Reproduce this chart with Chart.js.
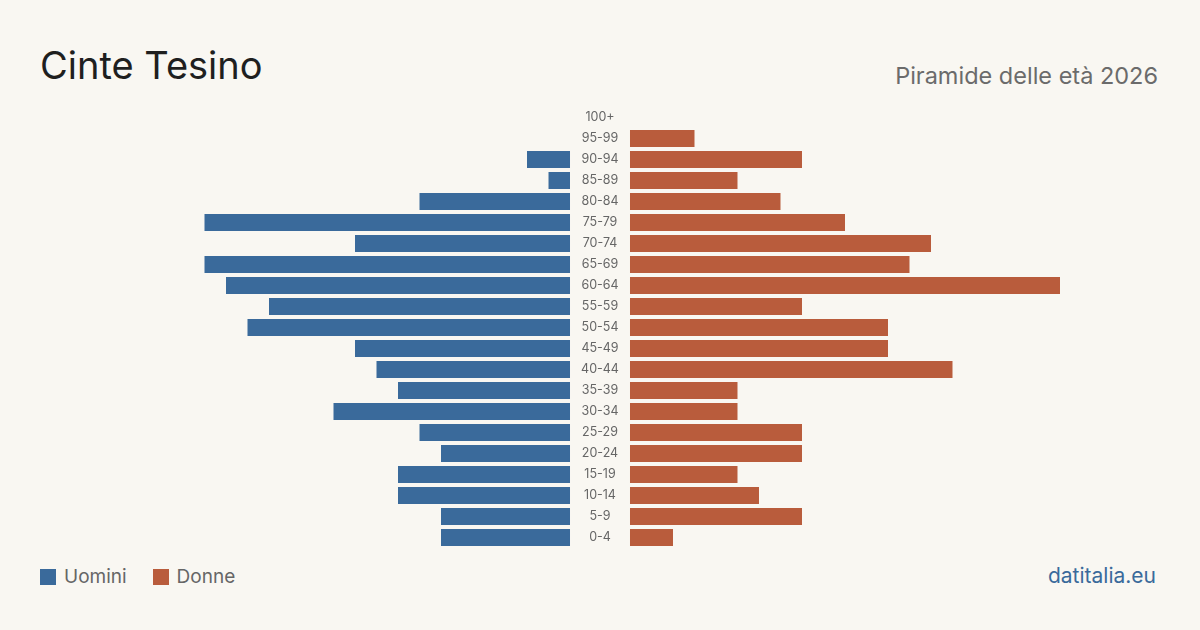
<!DOCTYPE html>
<html>
<head>
<meta charset="utf-8">
<script src="https://cdn.jsdelivr.net/npm/chart.js@4/dist/chart.umd.min.js"></script>
<style>
  body { margin: 0; width: 1200px; height: 630px; background: #f9f7f2; font-family: Inter, "Liberation Sans", sans-serif; position: relative; overflow: hidden; }
  .title { position: absolute; left: 40px; top: 42px; font-size: 38px; color: #1f1f1f; }
  .sub { position: absolute; right: 42px; top: 61px; font-size: 23.5px; color: #6b6b6b; }
  .wrap { position: absolute; left: 140px; top: 107px; width: 920px; height: 441px; }
  .legend { position: absolute; left: 40px; top: 565px; font-size: 19px; color: #666; display: flex; align-items: center; }
  .legend .sw { width: 16px; height: 16px; display: inline-block; margin-right: 8px; }
  .legend .item { display: flex; align-items: center; margin-right: 26px; }
  .brand { position: absolute; right: 44px; top: 563px; font-size: 21px; color: #3a6a9b; }
</style>
</head>
<body>
<div class="title">Cinte Tesino</div>
<div class="sub">Piramide delle età 2026</div>
<div class="wrap"><canvas id="pyr"></canvas></div>
<div class="legend">
  <span class="item"><span class="sw" style="background:#3a6a9b"></span>Uomini</span>
  <span class="item"><span class="sw" style="background:#b95c3c"></span>Donne</span>
</div>
<div class="brand">datitalia.eu</div>
<script>
const ageGroups = ['100+', '95-99', '90-94', '85-89', '80-84', '75-79', '70-74', '65-69', '60-64', '55-59',
  '50-54', '45-49', '40-44', '35-39', '30-34', '25-29', '20-24', '15-19', '10-14', '5-9', '0-4'];
const men = [0, 0, 2, 1, 7, 17, 10, 17, 16, 14, 15, 10, 9, 8, 11, 7, 6, 8, 8, 6, 6];
const women = [0, 3, 8, 5, 7, 10, 14, 13, 20, 8, 12, 12, 15, 5, 5, 8, 8, 5, 6, 8, 2];

const MAX = 20;
const GAP = 1.395; // space for the age labels in the middle, in data units

// etichette al centro
const centerLabels = {
  id: 'centerLabels',
  afterDatasetsDraw(c) {
    const ctx = c.ctx, x = c.scales.x, y = c.scales.y;
    ctx.save();
    ctx.font = '12.5px Inter, sans-serif';
    ctx.fillStyle = '#666';
    ctx.textAlign = 'center';
    ctx.textBaseline = 'middle';
    ageGroups.forEach((g, i) => ctx.fillText(g, x.getPixelForValue(0), y.getPixelForValue(i)));
    ctx.restore();
  }
};

new Chart(document.getElementById('pyr'), {
  type: 'bar',
  data: {
    labels: ageGroups,
    datasets: [
      { label: 'Uomini', data: men.map(v => v > 0 ? [-GAP - v, -GAP] : null), backgroundColor: '#3a6a9b', borderWidth: 0, grouped: false, barPercentage: 0.81, categoryPercentage: 1 },
      { label: 'Donne', data: women.map(v => v > 0 ? [GAP, GAP + v] : null), backgroundColor: '#b95c3c', borderWidth: 0, grouped: false, barPercentage: 0.81, categoryPercentage: 1 }
    ]
  },
  options: {
    indexAxis: 'y',
    responsive: true,
    maintainAspectRatio: false,
    animation: false,
    layout: { padding: 0 },
    scales: {
      x: { min: -MAX - GAP, max: MAX + GAP, display: false },
      y: { display: false }
    },
    plugins: { legend: { display: false }, tooltip: { enabled: false } }
  },
  plugins: [centerLabels]
});
</script>
</body>
</html>
